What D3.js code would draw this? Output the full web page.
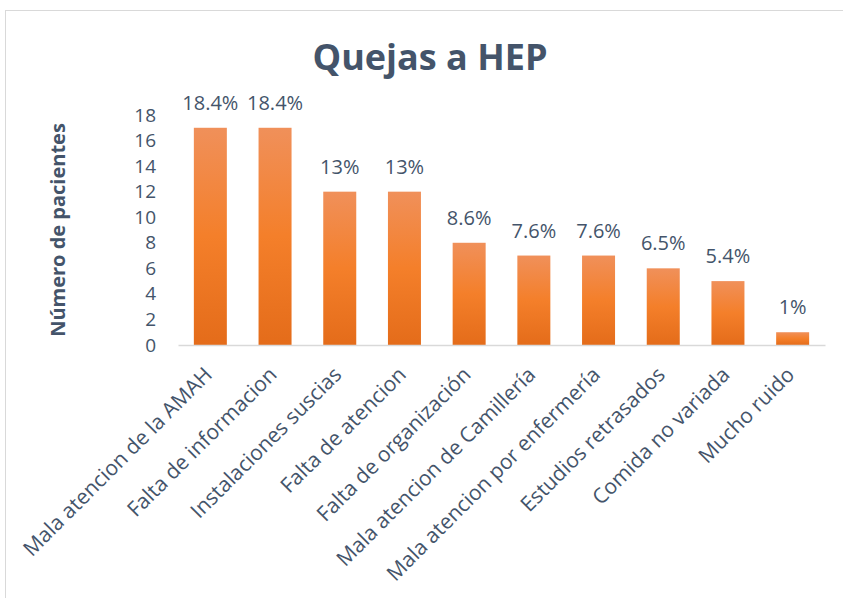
<!DOCTYPE html>
<html>
<head>
  <meta charset="utf-8">
  <title>Quejas a HEP</title>
  <script src="https://d3js.org/d3.v7.min.js"></script>
  <style>
    body {
      margin: 0;
      padding: 0;
      background: #fff;
      font-family: "Open Sans", sans-serif;
    }
  </style>
</head>
<body>
  <div id="chart"></div>
  <script>
    // chart data
    var categories = ["Mala atencion de la AMAH", "Falta de informacion", "Instalaciones suscias",
      "Falta de atencion", "Falta de organización", "Mala atencion de Camillería",
      "Mala atencion por enfermería", "Estudios retrasados", "Comida no variada", "Mucho ruido"];
    var values = [17, 17, 12, 12, 8, 7, 7, 6, 5, 1];
    var percentLabels = ["18.4%", "18.4%", "13%", "13%", "8.6%", "7.6%", "7.6%", "6.5%", "5.4%", "1%"];
    var yTicks = [0, 2, 4, 6, 8, 10, 12, 14, 16, 18];

    var width = 843, height = 598;
    var margin = {top: 115, right: 18, bottom: 253, left: 178};
    var textColor = "#44546A";

    var svg = d3.select("#chart")
      .append("svg")
        .attr("width", width)
        .attr("height", height);

    // outer chart border
    svg.append("rect")
      .attr("x", 5.5).attr("y", 10.5)
      .attr("width", 860).attr("height", 620)
      .attr("fill", "#fff")
      .attr("stroke", "#D9D9D9");

    // bar gradient
    var grad = svg.append("defs").append("linearGradient")
      .attr("id", "barGrad")
      .attr("x1", 0).attr("y1", 0).attr("x2", 0).attr("y2", 1);
    grad.append("stop").attr("offset", "0%").attr("stop-color", "#F0905A");
    grad.append("stop").attr("offset", "50%").attr("stop-color", "#F47F2A");
    grad.append("stop").attr("offset", "100%").attr("stop-color", "#E46C1A");

    var x = d3.scaleBand()
      .domain(categories)
      .range([margin.left, width - margin.right])
      .paddingInner(0.49)
      .paddingOuter(0.245);

    var y = d3.scaleLinear()
      .domain([0, 18])
      .range([height - margin.bottom, margin.top]);

    // title
    svg.append("text")
      .attr("x", 430).attr("y", 70)
      .attr("text-anchor", "middle")
      .attr("fill", textColor)
      .style("font-size", "36px")
      .style("font-weight", "bold")
      .text("Quejas a HEP");

    // y axis (labels only)
    var yAxis = svg.append("g")
      .attr("transform", "translate(" + (margin.left - 8) + ",0)")
      .call(d3.axisLeft(y).tickValues(yTicks).tickSize(0).tickPadding(14));
    yAxis.select(".domain").remove();
    yAxis.selectAll("text")
      .attr("fill", textColor)
      .style("font-size", "19px")
      .style("font-family", "'Open Sans', sans-serif");

    // y axis title
    svg.append("text")
      .attr("transform", "translate(65," + y(9) + ") rotate(-90)")
      .attr("text-anchor", "middle")
      .attr("fill", textColor)
      .style("font-size", "20px")
      .style("font-weight", "bold")
      .text("Número de pacientes");

    // bars
    svg.selectAll("rect.bar")
      .data(values)
      .enter().append("rect")
        .attr("class", "bar")
        .attr("x", function(d, i) { return x(categories[i]); })
        .attr("y", function(d) { return y(d); })
        .attr("width", x.bandwidth())
        .attr("height", function(d) { return y(0) - y(d); })
        .attr("fill", "url(#barGrad)");

    // value labels
    svg.selectAll("text.val")
      .data(values)
      .enter().append("text")
        .attr("class", "val")
        .attr("x", function(d, i) { return x(categories[i]) + x.bandwidth() / 2; })
        .attr("y", function(d) { return y(d) - 18; })
        .attr("text-anchor", "middle")
        .attr("fill", textColor)
        .style("font-size", "20px")
        .text(function(d, i) { return percentLabels[i]; });

    // x axis
    var xAxis = svg.append("g")
      .attr("transform", "translate(0," + y(0) + ")")
      .call(d3.axisBottom(x).tickSize(0).tickPadding(0));
    xAxis.select(".domain")
      .attr("stroke", "#D9D9D9")
      .attr("stroke-width", 1.5);
    xAxis.selectAll("text")
      .attr("fill", textColor)
      .style("font-size", "21px")
      .style("font-family", "'Open Sans', sans-serif")
      .attr("text-anchor", "end")
      .attr("dy", null)
      .attr("transform", "translate(3,31) rotate(-45)");
  </script>
</body>
</html>
